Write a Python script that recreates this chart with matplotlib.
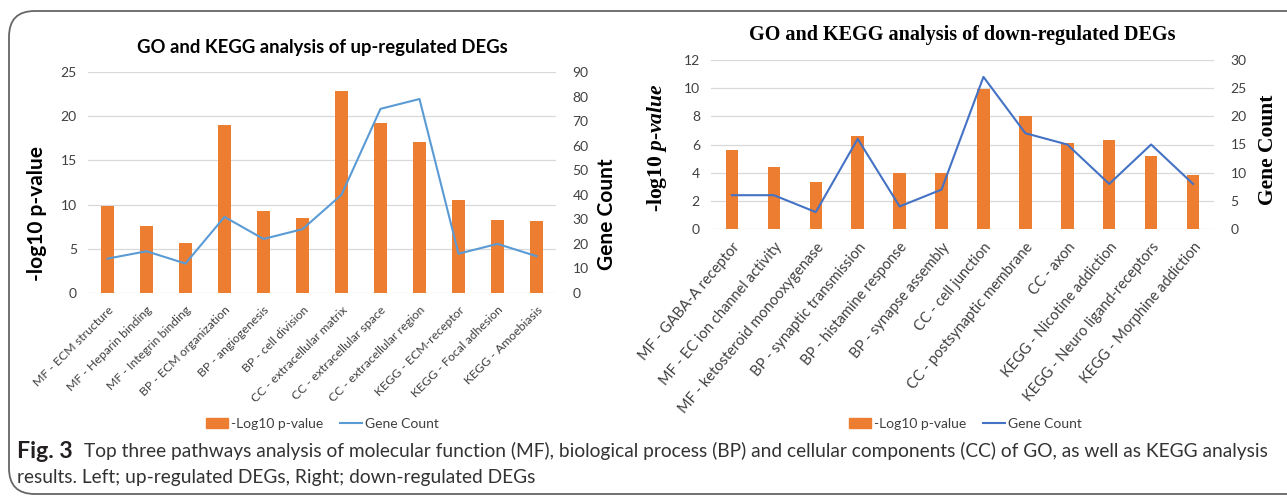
import numpy as np
import matplotlib.pyplot as plt
from matplotlib.patches import FancyBboxPatch
from matplotlib.lines import Line2D
from matplotlib.patches import Patch

plt.rcParams['mathtext.fontset'] = 'custom'
plt.rcParams['mathtext.it'] = 'Liberation Serif:italic:bold'
plt.rcParams['mathtext.rm'] = 'Liberation Serif:bold'

# datos: DEGs sobre-expresados
up_cats = ['MF - ECM structure', 'MF - Heparin binding', 'MF - Integrin binding',
           'BP - ECM organization', 'BP - angiogenesis', 'BP - cell division',
           'CC - extracellular matrix', 'CC - extracellular space',
           'CC - extracellular region', 'KEGG - ECM-receptor',
           'KEGG - Focal adhesion', 'KEGG - Amoebiasis']
up_logp = [9.85, 7.6, 5.6, 19.0, 9.3, 8.45, 22.8, 19.2, 17.1, 10.5, 8.3, 8.2]
up_count = [14, 17, 12, 31, 22, 26, 40, 75, 79, 16, 20, 15]

# datos: DEGs sub-expresados
down_cats = ['MF - GABA-A receptor', 'MF - EC ion channel activity',
             'MF - ketosteroid monooxygenase', 'BP - synaptic transmission',
             'BP - histamine response', 'BP - synapse assembly',
             'CC - cell junction', 'CC - postsynaptic membrane', 'CC - axon',
             'KEGG - Nicotine addiction', 'KEGG - Neuro ligand-receptors',
             'KEGG - Morphine addiction']
down_logp = [5.6, 4.4, 3.35, 6.6, 4.0, 4.0, 9.95, 8.05, 6.1, 6.3, 5.15, 3.85]
down_count = [6, 6, 3, 16, 4, 7, 27, 17, 15, 8, 15, 8]

W, H = 1287, 497
fig = plt.figure(figsize=(W / 100, H / 100), dpi=100)

naranja = '#ED7D31'
gris_tick = '#404040'
gris_grid = '#D9D9D9'
sans = ['Lato', 'DejaVu Sans']
serif = ['Liberation Serif', 'DejaVu Serif']


def panel(rect, cats, logp, count, ymax, ystep, y2max, y2step, color_linea, bar_w, fs_x, rot):
    ax = fig.add_axes(rect)
    x = np.arange(len(cats))
    ax.bar(x, logp, width=bar_w, color=naranja, zorder=3)
    ax.set_xlim(-0.5, len(cats) - 0.5)
    ax.set_ylim(0, ymax)
    ax.set_yticks(np.arange(0, ymax + 0.1, ystep))
    ax.grid(axis='y', color=gris_grid, lw=0.9, zorder=0)
    for s in ax.spines.values():
        s.set_visible(False)
    ax.tick_params(length=0, colors=gris_tick, labelsize=10, pad=8)
    ax.set_xticks(x)
    ax.set_xticklabels(cats, rotation=rot, ha='right', rotation_mode='anchor',
                       fontsize=fs_x, family=sans, color=gris_tick)
    for t in ax.get_yticklabels():
        t.set_family(sans)
    ax2 = ax.twinx()
    ax2.plot(x, count, color=color_linea, lw=1.5, zorder=4)
    ax2.set_ylim(0, y2max)
    ax2.set_yticks(np.arange(0, y2max + 0.1, y2step))
    for s in ax2.spines.values():
        s.set_visible(False)
    ax2.tick_params(length=0, colors=gris_tick, labelsize=10, pad=12)
    for t in ax2.get_yticklabels():
        t.set_family(sans)
    return ax, ax2


# panel izquierdo
axL, axL2 = panel([88 / W, 1 - 293 / H, 468 / W, 221 / H], up_cats, up_logp, up_count,
                  25, 5, 90, 10, '#5B9BD5', 0.31, 8.8, 45)
fig.text(322 / W, 1 - 47 / H, 'GO and KEGG analysis of up-regulated DEGs',
         ha='center', va='center', fontsize=13.3, fontweight='bold', family=sans)
fig.text(37 / W, 1 - 214 / H, '-log10 p-value', rotation=90, ha='center', va='center',
         fontsize=15, fontweight='bold', family=sans)
fig.text(607 / W, 1 - 214 / H, 'Gene Count', rotation=90, ha='center', va='center',
         fontsize=15, fontweight='bold', family=sans)

# panel derecho
axR, axR2 = panel([711 / W, 1 - 229 / H, 503 / W, 169 / H], down_cats, down_logp, down_count,
                  12, 2, 30, 5, '#4472C4', 0.3, 10.5, 50)
fig.text(962 / W, 1 - 35 / H, 'GO and KEGG analysis of down-regulated DEGs',
         ha='center', va='center', fontsize=14.5, fontweight='bold', family=serif)
fig.text(657 / W, 1 - 148 / H, r'-log10 $p$-$value$', rotation=90, ha='center', va='center',
         fontsize=15.5, fontweight='bold', family=serif)
fig.text(1268 / W, 1 - 150 / H, 'Gene Count', rotation=90, ha='center', va='center',
         fontsize=15.5, fontweight='bold', family=serif)

# leyendas
for cx, col in [(322, '#5B9BD5'), (965, '#4472C4')]:
    handles = [Patch(color=naranja), Line2D([0], [0], color=col, lw=1.5)]
    fig.legend(handles, ['-Log10 p-value', 'Gene Count'], loc='center',
               bbox_to_anchor=(cx / W, 1 - 424 / H), ncol=2, frameon=False,
               prop={'family': sans, 'size': 10}, handlelength=1.6,
               handletextpad=0.2, columnspacing=1.2, labelcolor=gris_tick)

# marco
marco = FancyBboxPatch((9 / W, 1 - 494 / H), 1.2, (494 - 11) / H,
                       boxstyle='round,pad=0,rounding_size=0.02',
                       transform=fig.transFigure, fill=False, ec='#666666', lw=1.3,
                       mutation_aspect=W / H)
fig.patches.append(marco)

# pie de figura: se ajusta el tamaño para que la línea ocupe el ancho original
cap = ['Lato', 'DejaVu Sans']
rend = fig.canvas.get_renderer()
fig_t = fig.text(17 / W, 1 - 451 / H, 'Fig. 3', ha='left', va='center', fontsize=14,
                 fontweight='bold', family=cap, color='#231F20')
fig_t.set_fontsize(14 * 56 / fig_t.get_window_extent(rend).width)
linea1 = fig.text(84 / W, 1 - 451 / H,
                  'Top three pathways analysis of molecular function (MF), biological process (BP) '
                  'and cellular components (CC) of GO, as well as KEGG analysis',
                  ha='left', va='center', fontsize=14, family=cap, color='#333333')
linea2 = fig.text(17 / W, 1 - 478 / H,
                  'results. Left; up-regulated DEGs, Right; down-regulated DEGs',
                  ha='left', va='center', fontsize=14, family=cap, color='#333333')
ancho = linea1.get_window_extent(rend).width
fs = 14 * (1276 - 84) / ancho
for t in (linea1, linea2):
    t.set_fontsize(fs)

fig.savefig('out.png', dpi=100)
